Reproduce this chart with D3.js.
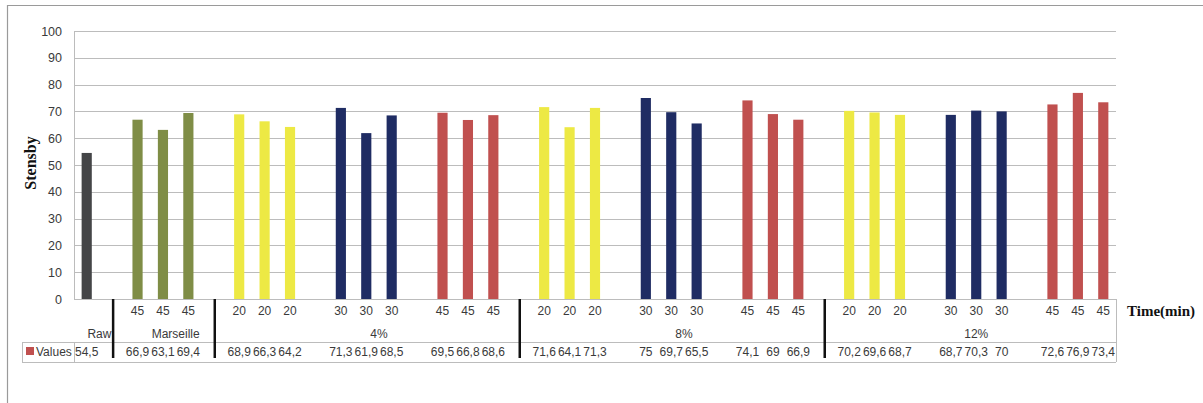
<!DOCTYPE html>
<html><head><meta charset="utf-8">
<script src="https://cdn.jsdelivr.net/npm/d3@7"></script>
<style>
html,body{margin:0;padding:0;background:#fff;}
svg{display:block;}
</style></head>
<body>
<svg id="chart" width="1203" height="403"></svg>
<script>
// ---- data ----
const times = ["", "", "45","45","45", "", "20","20","20", "", "30","30","30", "", "45","45","45", "",
  "20","20","20", "", "30","30","30", "", "45","45","45", "",
  "20","20","20", "", "30","30","30", "", "45","45","45"];
const values = [54.5, null, 66.9,63.1,69.4, null, 68.9,66.3,64.2, null, 71.3,61.9,68.5, null, 69.5,66.8,68.6, null,
  71.6,64.1,71.3, null, 75,69.7,65.5, null, 74.1,69,66.9, null,
  70.2,69.6,68.7, null, 68.7,70.3,70, null, 72.6,76.9,73.4];
const kinds = ["raw","", "mar","mar","mar", "", "y","y","y", "", "n","n","n", "", "r","r","r", "",
  "y","y","y", "", "n","n","n", "", "r","r","r", "",
  "y","y","y", "", "n","n","n", "", "r","r","r"];
const groupLabels = ["Raw","Marseille","4%","8%","12%"];
const groupSizes = [2, 4, 12, 12, 11];
const separatorSlots = [1, 5, 17, 29];
const yTicks = [0,10,20,30,40,50,60,70,80,90,100];
const kindColors = {raw:"#444547", mar:"#7f8d46", y:"#ede944", n:"#1f2c63", r:"#c0504f"};
const seriesName = "Values";
const yTitle = "Stensby";
const xTitle = "Time(min)";

// ---- layout ----
const svg = d3.select("#chart");
const L = 74, R = 1116, T = 31, B = 299;
const slots = d3.range(values.length);
const x = d3.scaleBand().domain(slots).range([L, R]).paddingInner(0.6).paddingOuter(0.3);
const y = d3.scaleLinear().domain([0, 100]).range([B, T]);
const step = x.step();
const cx = i => x(i) + x.bandwidth() / 2;
const textCol = "#3a3a3a";
const gridCol = "#bcbcbc";

// outer border
svg.append("path").attr("d", `M7.5,403 V5.5 H1203`).attr("fill","none").attr("stroke","#9a9a9a").attr("stroke-width",1.2);

// gridlines
svg.append("g").selectAll("line").data(yTicks).join("line")
  .attr("x1", L).attr("x2", R).attr("y1", d => Math.round(y(d)) + 0.5).attr("y2", d => Math.round(y(d)) + 0.5)
  .attr("stroke", gridCol).attr("stroke-width", 1);
// y axis line
svg.append("line").attr("x1", L + 0.5).attr("x2", L + 0.5).attr("y1", T).attr("y2", B).attr("stroke", gridCol);

// y axis labels
const yAxis = d3.axisLeft(y).tickValues(yTicks).tickSize(0).tickPadding(12);
const gy = svg.append("g").attr("transform", `translate(${L},0)`).call(yAxis);
gy.select(".domain").remove();
gy.selectAll("text").attr("font-family", "Liberation Sans, Arial, sans-serif").attr("font-size", 12.5).attr("fill", textCol);

// bars
svg.append("g").selectAll("rect").data(slots.filter(i => values[i] != null)).join("rect")
  .attr("x", i => x(i)).attr("width", x.bandwidth())
  .attr("y", i => y(values[i])).attr("height", i => y(0) - y(values[i]))
  .attr("fill", i => kindColors[kinds[i]]);

// table
const tbl = svg.append("g").attr("stroke", gridCol).attr("fill", "none");
const rowTop = 342, rowBot = 362;
tbl.append("line").attr("x1", 22).attr("x2", R).attr("y1", rowTop + 0.5).attr("y2", rowTop + 0.5);
tbl.append("line").attr("x1", 22).attr("x2", R).attr("y1", rowBot + 0.5).attr("y2", rowBot + 0.5);
tbl.append("line").attr("x1", 22.5).attr("x2", 22.5).attr("y1", rowTop).attr("y2", rowBot);
tbl.append("line").attr("x1", L + 0.5).attr("x2", L + 0.5).attr("y1", rowTop).attr("y2", rowBot);
tbl.append("line").attr("x1", R + 0.5).attr("x2", R + 0.5).attr("y1", B).attr("y2", rowBot);

const font = "Liberation Sans, Arial, sans-serif";
// time labels
svg.append("g").selectAll("text").data(slots.filter(i => times[i] !== "")).join("text")
  .attr("x", i => cx(i)).attr("y", 315).attr("text-anchor", "middle")
  .attr("font-family", font).attr("font-size", 12).attr("fill", textCol).text(i => times[i]);

// group labels
let acc = 0;
const groupCenters = groupSizes.map(s => { const c = L + step * (acc + s / 2); acc += s; return c; });
svg.append("g").selectAll("text").data(groupLabels).join("text")
  .attr("x", (d, k) => groupCenters[k]).attr("y", 338).attr("text-anchor", "middle")
  .attr("font-family", font).attr("font-size", 12).attr("fill", textCol).text(d => d);

// values row
svg.append("g").selectAll("text").data(slots.filter(i => values[i] != null)).join("text")
  .attr("x", i => cx(i)).attr("y", 356).attr("text-anchor", "middle")
  .attr("font-family", font).attr("font-size", 12).attr("fill", textCol)
  .text(i => String(values[i]).replace(".", ","));

// legend key in table
svg.append("rect").attr("x", 26).attr("y", 347).attr("width", 8).attr("height", 8).attr("fill", kindColors.r);
svg.append("text").attr("x", 36).attr("y", 356).attr("font-family", font).attr("font-size", 12)
  .attr("fill", textCol).text(seriesName);

// thick separators
svg.append("g").selectAll("line").data(separatorSlots).join("line")
  .attr("x1", i => cx(i) + 1).attr("x2", i => cx(i) + 1).attr("y1", B).attr("y2", 358)
  .attr("stroke", "#111").attr("stroke-width", 2.5);

// titles
svg.append("text").attr("transform", "translate(36,163) rotate(-90)").attr("text-anchor", "middle")
  .attr("font-family", "Liberation Serif, Times New Roman, serif").attr("font-weight", "bold").attr("font-size", 16)
  .attr("fill", "#111").text(yTitle);
svg.append("text").attr("x", 1127).attr("y", 316)
  .attr("font-family", "Liberation Serif, Times New Roman, serif").attr("font-weight", "bold").attr("font-size", 15)
  .attr("fill", "#111").text(xTitle);
</script>
</body></html>
